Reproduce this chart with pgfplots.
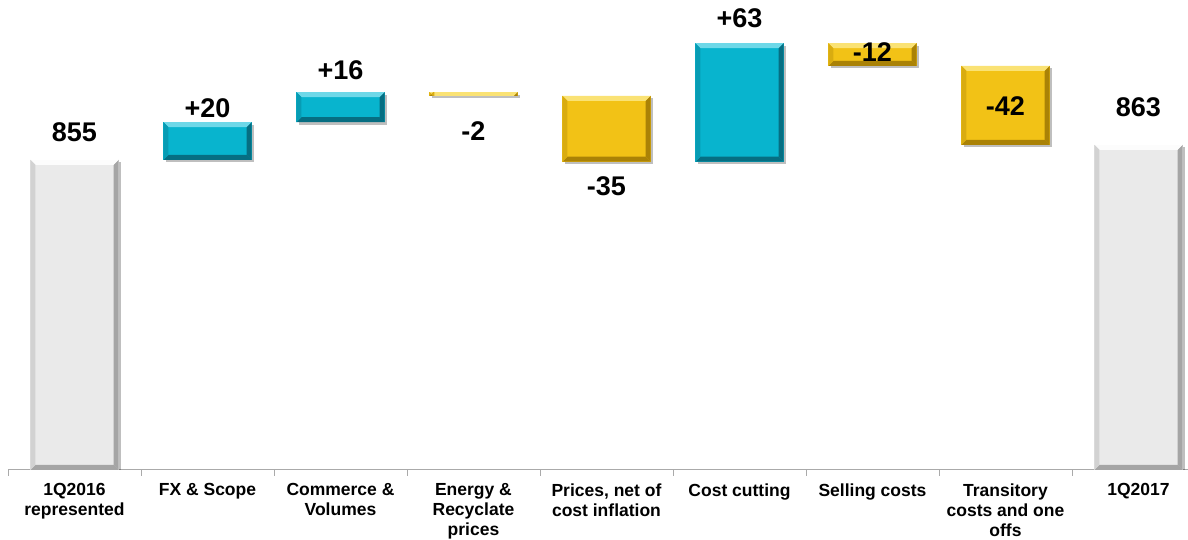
\documentclass[border=0pt]{standalone}
\usepackage{pgfplots}
\pgfplotsset{compat=1.18}
\usepackage{fontspec}
\setmainfont{Liberation Sans}
\usetikzlibrary{shadows}
\definecolor{teal1}{RGB}{8,180,206}
\definecolor{tealL}{RGB}{110,216,232}
\definecolor{tealD}{RGB}{6,110,130}
\definecolor{gold1}{RGB}{242,194,22}
\definecolor{goldL}{RGB}{250,226,116}
\definecolor{goldD}{RGB}{170,130,6}
\definecolor{gray1}{RGB}{234,234,234}
\definecolor{grayL}{RGB}{252,252,252}
\definecolor{grayD}{RGB}{165,165,165}
\definecolor{axisgray}{RGB}{170,170,170}

\def\pb{path picture bounding box}
\tikzset{
  bevel/.style n args={3}{fill=#1, draw=none,
    drop shadow={shadow xshift=2.5pt, shadow yshift=-2.5pt, fill=black, opacity=0.25, path picture={}},
    path picture={
      \fill[#3, path picture={}] (\pb.south west) -- (\pb.south east) -- ([xshift=-5pt,yshift=5pt]\pb.south east) -- ([xshift=5pt,yshift=5pt]\pb.south west) -- cycle;
      \fill[#3, path picture={}] (\pb.south east) -- (\pb.north east) -- ([xshift=-5pt,yshift=-5pt]\pb.north east) -- ([xshift=-5pt,yshift=5pt]\pb.south east) -- cycle;
      \fill[#2, path picture={}] (\pb.north west) -- (\pb.north east) -- ([xshift=-5pt,yshift=-5pt]\pb.north east) -- ([xshift=5pt,yshift=-5pt]\pb.north west) -- cycle;
      \fill[#1!65!#3, path picture={}] (\pb.north west) -- (\pb.south west) -- ([xshift=5pt,yshift=5pt]\pb.south west) -- ([xshift=5pt,yshift=-5pt]\pb.north west) -- cycle;
    }},
  tot/.style={bevel={gray1}{grayL}{grayD}},
  up/.style={bevel={teal1}{tealL}{tealD}},
  dn/.style={bevel={gold1}{goldL}{goldD}},
  lbl/.style={font=\fontsize{27}{30}\selectfont\bfseries, anchor=center, inner sep=0pt}
}
% waterfall bar: #1 category index, #2 lower value, #3 upper value, #4 style
\newcommand\wbar[4]{%
  \pgfmathsetmacro\xa{#1-0.331}\pgfmathsetmacro\xb{#1+0.331}%
  \edef\tmp{\noexpand\addplot[#4] coordinates {(\xa,#2) (\xb,#2) (\xb,#3) (\xa,#3)} -- cycle;}\tmp}

\begin{document}
\begin{tikzpicture}
\begin{axis}[
  scale only axis, width=1197pt, height=470pt,
  xmin=-0.5, xmax=8.5, ymin=690, ymax=940,
  axis y line=none, axis x line*=bottom,
  axis line style={draw=axisgray, line width=1pt},
  xtick={0,...,8},
  xticklabels={{1Q2016\\represented},{FX \& Scope},{Commerce \&\\Volumes},{Energy \&\\Recyclate\\prices},{Prices, net of\\cost inflation},{Cost cutting},{Selling costs},{Transitory\\costs and one\\offs},{1Q2017}},
  major tick length=0pt,
  minor xtick={-0.5,0.5,...,8.5}, minor tick length=6pt, tick align=outside,
  minor tick style={draw=axisgray, line width=0.8pt},
  xticklabel style={font=\fontsize{17.5}{20}\selectfont\bfseries, align=center, anchor=north, yshift=-10pt},
]
% category, from, to
\wbar{0}{690}{855}{tot}
\wbar{1}{855}{875}{up}
\wbar{2}{875}{891}{up}
\wbar{3}{891}{889}{dn}
\wbar{4}{889}{854}{dn}
\wbar{5}{854}{917}{up}
\wbar{6}{917}{905}{dn}
\wbar{7}{905}{863}{dn}
\wbar{8}{690}{863}{tot}

\coordinate (l0) at (axis cs:0,869.8);
\coordinate (l1) at (axis cs:1,882.6);
\coordinate (l2) at (axis cs:2,902.8);
\coordinate (l3) at (axis cs:3,870.3);
\coordinate (l4) at (axis cs:4,841.1);
\coordinate (l5) at (axis cs:5,930.4);
\coordinate (l6) at (axis cs:6,912.3);
\coordinate (l7) at (axis cs:7,883.6);
\coordinate (l8) at (axis cs:8,883.1);
\end{axis}
\node[lbl] at (l0) {855};
\node[lbl] at (l1) {+20};
\node[lbl] at (l2) {+16};
\node[lbl] at (l3) {-2};
\node[lbl] at (l4) {-35};
\node[lbl] at (l5) {+63};
\node[lbl] at (l6) {-12};
\node[lbl] at (l7) {-42};
\node[lbl] at (l8) {863};
\pgfresetboundingbox
\useasboundingbox (-8pt,-70pt) rectangle (1180pt,470pt);
\end{tikzpicture}
\end{document}
